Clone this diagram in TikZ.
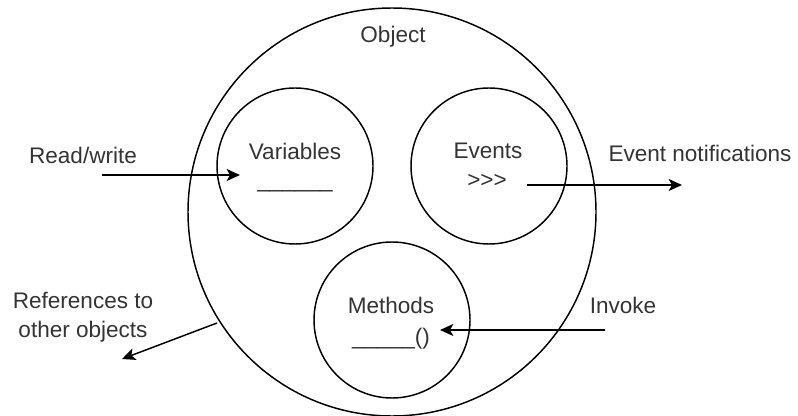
\documentclass[tikz,border=0pt]{standalone}
\usepackage{fontspec}
\setmainfont{Liberation Sans}
\usetikzlibrary{arrows.meta}
\begin{document}
\begin{tikzpicture}[x=0.75pt,y=-0.75pt,
  line width=1.1pt,
  part/.style={draw,circle,minimum size=117pt,inner sep=0pt},
  lbl/.style={font=\fontsize{16.9}{21.75}\selectfont,text=black!80,inner sep=0pt,align=center},
  flow/.style={-{Stealth[length=10pt,width=9pt,inset=2.5pt]}}]
\useasboundingbox (0,0) rectangle (798,416);

% outer object and its three parts
\node[draw,circle,minimum size=306pt,inner sep=0pt] (obj) at (392,212) {};
\node[lbl] (objlbl) at (393,37) {Object};
\node[part] (vars) at (295,166) {};
\node[part] (evts) at (489,166) {};
\node[part] (meth) at (392,320) {};

\node[lbl] (varslbl) at (295,151) {Variables};
\node[lbl] (varsfill) at (295,190) {\_\_\_\_\_\_};
\node[lbl] (evtslbl) at (488,151) {Events};
\node[lbl] (evtssym) at (487,181) {{>}{>}{>}};
\node[lbl] (methlbl) at (391,305) {Methods};
\node[lbl] (methfill) at (391,339) {\_\_\_\_\_()};

% outside labels
\node[lbl] (rw) at (83,155) {Read/write};
\node[lbl] (en) at (700,153) {Event notifications};
\node[lbl] (inv) at (623,305) {Invoke};
\node[lbl] (refs) at (83,317) {References to\\other objects};

% connector ends
\coordinate (rwS) at (102,175);
\coordinate (rwE) at (240,175);
\coordinate (enS) at (527,185);
\coordinate (enE) at (682,185);
\coordinate (invS) at (605,330);
\coordinate (invE) at (440,330);
\coordinate (refS) at (217,323);
\coordinate (refE) at (122,359);

\draw[flow] (rwS) -- (rwE);
\draw[flow] (enS) -- (enE);
\draw[flow] (invS) -- (invE);
\draw[flow] (refS) -- (refE);
\end{tikzpicture}
\end{document}
